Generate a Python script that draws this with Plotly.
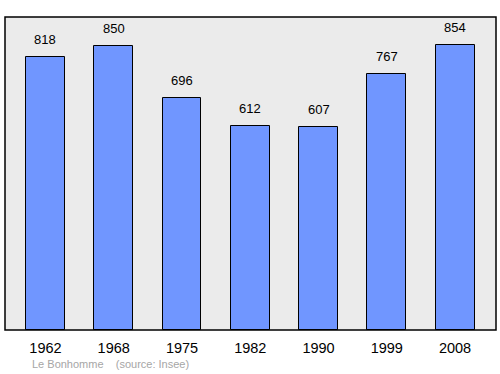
import plotly.graph_objects as go

years = ["1962", "1968", "1975", "1982", "1990", "1999", "2008"]
population = [818, 850, 696, 612, 607, 767, 854]

xs = list(range(len(years)))
fig = go.Figure()
fig.add_trace(go.Bar(
    x=xs, y=population, width=0.57,
    marker=dict(color="#7096ff", line=dict(color="black", width=1)),
    hoverinfo="skip",
))
for x, v in zip(xs, population):
    fig.add_annotation(x=x, y=v, text=str(v), showarrow=False, yanchor="bottom",
                       yshift=8, font=dict(family="Liberation Sans, Arial", size=13, color="black"))

fig.add_annotation(xref="paper", yref="paper", x=0.05, y=-0.11, xanchor="left", yanchor="middle",
                   text="Le Bonhomme &nbsp;&nbsp;&nbsp;(source: Insee)", showarrow=False,
                   font=dict(family="Liberation Sans, Arial", size=11, color="#a6a6a6"))

fig.add_shape(type="rect", xref="paper", yref="paper", x0=0, x1=1, y0=0, y1=1,
              line=dict(color="black", width=1.5), fillcolor="rgba(0,0,0,0)", layer="above")

fig.update_layout(
    width=500, height=374,
    margin=dict(l=5, r=4, t=17, b=44),
    plot_bgcolor="#ebebeb", paper_bgcolor="white",
    showlegend=False,
    xaxis=dict(range=[-0.593, 6.6], tickvals=xs, ticktext=years, showgrid=False,
               zeroline=False, ticks="", showline=False, ticklabelstandoff=7,
               tickfont=dict(family="Liberation Sans, Arial", size=14.5, color="black")),
    yaxis=dict(range=[0, 938], showticklabels=False, showgrid=False, zeroline=False, ticks=""),
    bargap=0,
)
fig.write_html("out.html")
